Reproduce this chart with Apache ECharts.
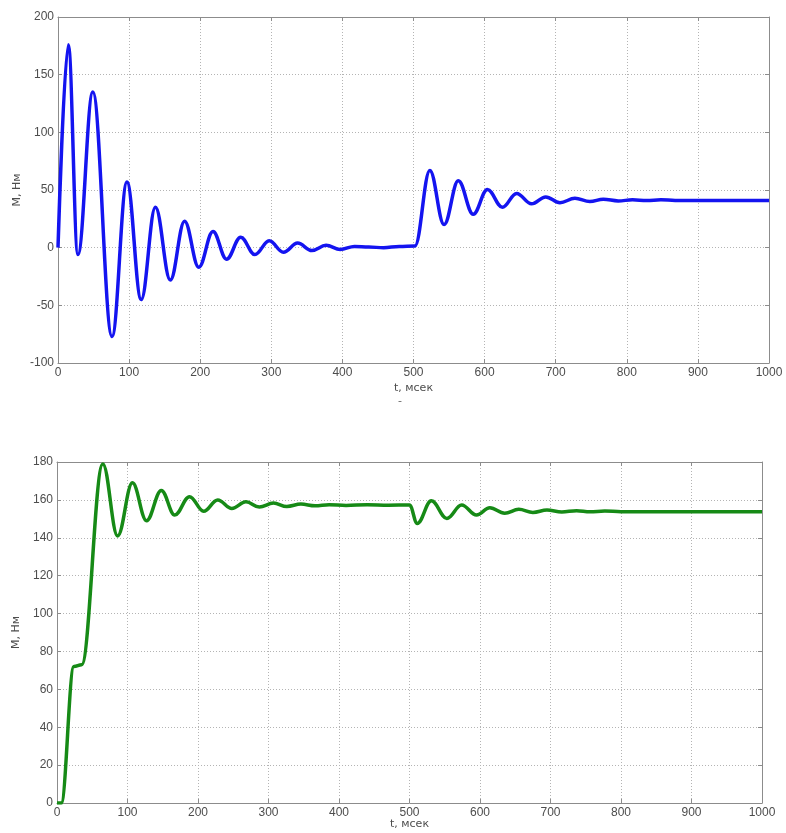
<!DOCTYPE html>
<html>
<head>
<meta charset="utf-8">
<script src="https://cdn.jsdelivr.net/npm/echarts@6/dist/echarts.min.js"></script>
<style>
  html, body { margin: 0; padding: 0; background: #ffffff; }
  #chart { width: 786px; height: 833px; }
</style>
</head>
<body>
<div id="chart"></div>
<script>
// Time axis, ms
const timeMin = 0;
const timeMax = 1000;
const timeStep = 100;

// Upper plot: torque vs time (turning points of the transient)
const upperTime = [0, 14.5, 28, 49, 76, 97, 117, 137, 158, 178, 198, 218, 237, 257, 277, 297, 317, 337, 357, 377, 397, 417, 437, 458, 480, 502,
  523, 543, 563, 584, 604, 625, 645, 666, 686, 706, 727, 748, 767, 788, 808, 828, 848, 868, 1000];
const upperTorque = [0, 176, -6, 135, -77, 57, -45, 35, -28, 23, -17, 14, -10, 9, -6, 6, -4, 4, -2.5, 2, -1.5, 1, 0.5, 0, 1, 1.5,
  67, 20, 58, 29, 50.5, 35, 47, 38, 44, 39, 42.8, 40, 42, 40.5, 41.5, 40.8, 41.6, 41, 41];
const upperMin = -100, upperMax = 200, upperStep = 50;

// Lower plot: torque vs time
const lowerTime = [0, 6, 24, 35, 65, 86, 107, 127, 148, 167, 188, 208, 228, 248, 268, 287, 307, 326, 346, 366, 386, 410, 440, 470, 500,
  511, 531, 553, 574, 595, 614, 635, 655, 675, 695, 716, 737, 756, 777, 800, 1000];
const lowerTorque = [0, 0, 72, 73, 179, 141, 169, 149, 165, 152, 161.7, 154, 160, 155.5, 159, 156.2, 158.3, 156.5, 157.8, 156.9, 157.5, 157, 157.5, 157.2, 157.3,
  147.5, 159.5, 150.2, 157.3, 152, 155.8, 152.9, 155, 153.4, 154.6, 153.6, 154.3, 153.7, 154.1, 153.8, 153.8];
const lowerMin = 0, lowerMax = 180, lowerStep = 20;

const timeName = 't, мсек';
const torqueName = 'М, Нм';

const pairs = (xs, ys) => xs.map((x, i) => [x, ys[i]]);

const frameColor = '#8c8c8c';
const textColor = '#4d4d4d';
const labelFont = { fontFamily: 'Liberation Sans, Arial, sans-serif', fontSize: 12, color: textColor };
const nameFont = { fontFamily: 'DejaVu Sans, sans-serif', fontSize: 11, color: textColor };
const gridDots = { show: true, lineStyle: { color: '#b4b4b4', width: 1, type: [1, 2] } };
const plainNumber = v => String(v);

function mainX(gridIndex, gap) {
  return {
    type: 'value', gridIndex, min: timeMin, max: timeMax, interval: timeStep,
    name: timeName, nameLocation: 'middle', nameGap: gap, nameTextStyle: nameFont,
    nameMoveOverlap: false,
    axisLine: { show: true, onZero: false, lineStyle: { color: frameColor, width: 1 } },
    axisTick: { show: true, inside: true, length: 4, lineStyle: { color: frameColor } },
    axisLabel: Object.assign({ margin: 4, formatter: plainNumber }, labelFont),
    splitLine: gridDots
  };
}
function mirrorX(gridIndex) {
  return {
    type: 'value', gridIndex, position: 'top', min: timeMin, max: timeMax, interval: timeStep,
    axisLine: { show: true, onZero: false, lineStyle: { color: frameColor, width: 1 } },
    axisTick: { show: true, inside: true, length: 4, lineStyle: { color: frameColor } },
    axisLabel: { show: false }, splitLine: { show: false }
  };
}
function mainY(gridIndex, min, max, step) {
  return {
    type: 'value', gridIndex, min, max, interval: step,
    name: torqueName, nameLocation: 'middle', nameGap: 35, nameTextStyle: nameFont,
    nameMoveOverlap: false,
    axisLine: { show: true, onZero: false, lineStyle: { color: frameColor, width: 1 } },
    axisTick: { show: true, inside: true, length: 4, lineStyle: { color: frameColor } },
    axisLabel: Object.assign({ margin: 4, formatter: plainNumber }, labelFont),
    splitLine: gridDots
  };
}
function mirrorY(gridIndex, min, max, step) {
  return {
    type: 'value', gridIndex, position: 'right', min, max, interval: step,
    axisLine: { show: true, onZero: false, lineStyle: { color: frameColor, width: 1 } },
    axisTick: { show: true, inside: true, length: 4, lineStyle: { color: frameColor } },
    axisLabel: { show: false }, splitLine: { show: false }
  };
}

const chart = echarts.init(document.getElementById('chart'), null, { renderer: 'canvas' });
chart.setOption({
  animation: false,
  backgroundColor: '#ffffff',
  grid: [
    { left: 58, top: 17, width: 711, height: 346 },
    { left: 57, top: 462, width: 705, height: 341 }
  ],
  xAxis: [mainX(0, 20), mirrorX(0), mainX(1, 16), mirrorX(1)],
  yAxis: [
    mainY(0, upperMin, upperMax, upperStep), mirrorY(0, upperMin, upperMax, upperStep),
    mainY(1, lowerMin, lowerMax, lowerStep), mirrorY(1, lowerMin, lowerMax, lowerStep)
  ],
  series: [
    {
      type: 'line', xAxisIndex: 0, yAxisIndex: 0,
      data: pairs(upperTime, upperTorque),
      showSymbol: false, smooth: 0.38, smoothMonotone: 'x',
      lineStyle: { color: '#1414f0', width: 3.5 }
    },
    {
      type: 'line', xAxisIndex: 2, yAxisIndex: 2,
      data: pairs(lowerTime, lowerTorque),
      showSymbol: false, smooth: 0.38, smoothMonotone: 'x',
      lineStyle: { color: '#168a16', width: 3.5 }
    }
  ],
  graphic: [
    { type: 'text', left: 398, top: 396, style: { text: '-', font: '11px DejaVu Sans, sans-serif', fill: '#666666' } }
  ]
});
</script>
</body>
</html>
